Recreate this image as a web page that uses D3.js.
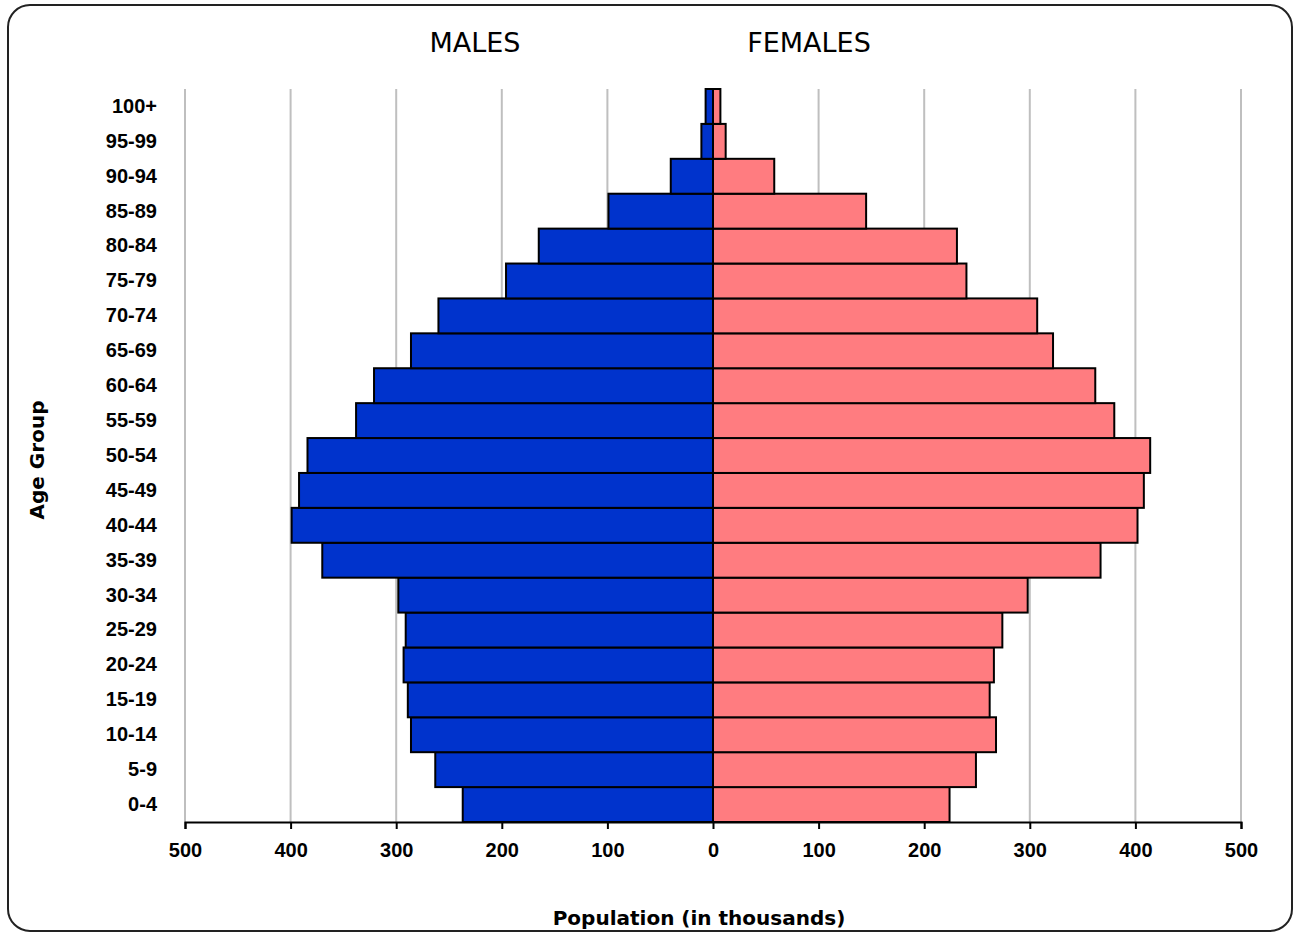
<!DOCTYPE html>
<html><head><meta charset="utf-8">
<script src="https://cdn.jsdelivr.net/npm/d3@7"></script>
<style>body{margin:0;background:#fff}svg{font-family:"DejaVu Sans",sans-serif}</style>
</head><body><div id="chart"></div>
<script>
var ageGroups = ["0-4","5-9","10-14","15-19","20-24","25-29","30-34","35-39","40-44","45-49","50-54","55-59","60-64","65-69","70-74","75-79","80-84","85-89","90-94","95-99","100+"];
var males = [237,263,286,289,293,291,298,370,399,392,384,338,321,286,260,196,165,99,40,11,7];
var females = [224,249,268,262,266,274,298,367,402,408,414,380,362,322,307,240,231,145,58,12,7];
var ticks = [-500,-400,-300,-200,-100,0,100,200,300,400,500];

var W = 1297, H = 935;
var svg = d3.select("#chart").append("svg").attr("width", W).attr("height", H);
svg.append("rect").attr("x", 8).attr("y", 5).attr("width", 1284).attr("height", 926)
    .attr("rx", 22).attr("fill", "#fff").attr("stroke", "#222").attr("stroke-width", 2);

var x = d3.scaleLinear().domain([-500, 500]).range([185, 1241]);
var y = d3.scaleBand().domain(ageGroups).range([822, 89]).padding(0);

svg.append("g").selectAll("line").data(ticks).enter().append("line")
    .attr("x1", d => x(d)).attr("x2", d => x(d)).attr("y1", 89).attr("y2", 822)
    .attr("stroke", "#bfbfbf").attr("stroke-width", 2);

var rows = ageGroups.map((a, i) => ({ age: a, m: males[i], f: females[i] }));
svg.append("g").selectAll("rect").data(rows).enter().append("rect")
    .attr("x", d => x(-d.m)).attr("width", d => x(0) - x(-d.m))
    .attr("y", d => y(d.age)).attr("height", y.bandwidth())
    .attr("fill", "#0033cc").attr("stroke", "#000").attr("stroke-width", 2);
svg.append("g").selectAll("rect").data(rows).enter().append("rect")
    .attr("x", x(0)).attr("width", d => x(d.f) - x(0))
    .attr("y", d => y(d.age)).attr("height", y.bandwidth())
    .attr("fill", "#ff7c80").attr("stroke", "#000").attr("stroke-width", 2);

var xAxis = svg.append("g").attr("transform", "translate(0,822)")
    .call(d3.axisBottom(x).tickValues(ticks).tickFormat(d => Math.abs(d)).tickSize(7).tickPadding(14));
xAxis.selectAll("text").attr("font-size", 20).attr("font-weight", "bold").attr("fill", "#000");
xAxis.selectAll("line,path").attr("stroke", "#000").attr("stroke-width", 2);

var yAxis = svg.append("g").attr("transform", "translate(185,0)")
    .call(d3.axisLeft(y).tickSize(0).tickPadding(28));
yAxis.select("path").remove();
yAxis.selectAll("text").attr("font-size", 20).attr("font-weight", "bold").attr("fill", "#000");

svg.append("text").attr("x", 475).attr("y", 52).attr("text-anchor", "middle")
    .attr("font-size", 27).text("MALES");
svg.append("text").attr("x", 809).attr("y", 52).attr("text-anchor", "middle")
    .attr("font-size", 27).text("FEMALES");
svg.append("text").attr("x", 699).attr("y", 925).attr("text-anchor", "middle")
    .attr("font-size", 20).attr("font-weight", "bold").text("Population (in thousands)");
svg.append("text").attr("transform", "translate(44,460) rotate(-90)").attr("text-anchor", "middle")
    .attr("font-size", 20).attr("font-weight", "bold").text("Age Group");
</script></body></html>
